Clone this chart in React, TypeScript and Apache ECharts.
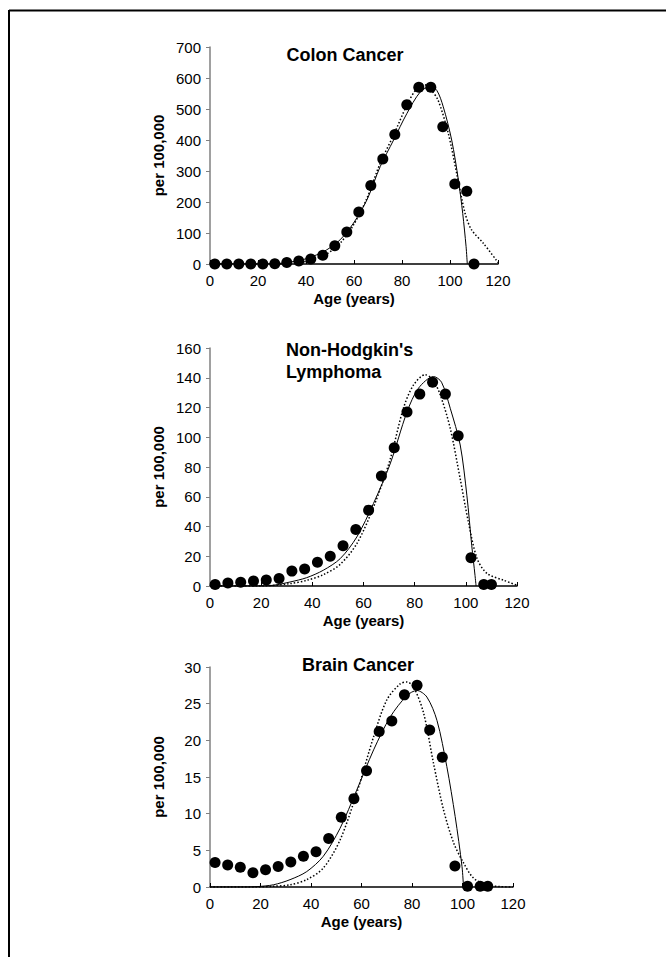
import React, { useEffect, useRef } from "react";
import * as echarts from "echarts";

// Ages at which observed rates are plotted (shared by all three panels)
const ages = [2, 7, 12, 17, 22, 27, 32, 37, 42, 47, 52, 57, 62, 67, 72, 77, 82, 87, 92, 97, 102, 107, 110];

// Colon cancer (per 100,000)
const colonObserved = [0, 0, 0, 0, 0, 1, 5, 10, 16, 28, 59, 103, 168, 253, 339, 418, 514, 570, 570, 443, 258, 235, 0];
const colonSolid: number[][] = [
  [0, 0], [20, 0], [29, 2], [37.6, 12], [43, 25], [48.7, 46], [54.2, 78], [59.8, 132], [65.4, 207],
  [70.9, 314], [76.5, 400], [82, 485], [87.6, 555], [91.7, 572], [94.5, 560], [97.2, 507], [100.7, 400],
  [103.5, 271], [105.3, 163], [106.7, 56], [107.2, 0],
];
const colonDotted: number[][] = [
  [0, 0], [25, 0], [32, 1], [37.6, 5], [43, 14], [48.7, 33], [54.2, 67], [59.8, 126], [65.4, 212],
  [70.9, 325], [76.5, 416], [82, 512], [86, 565], [89, 580], [92, 562], [95, 529], [99.3, 421],
  [102.8, 292], [106.3, 163], [109, 110], [113.9, 67], [120, 5],
];

// Non-Hodgkin's lymphoma (per 100,000)
const nhlObserved = [1, 2, 2.5, 3.4, 4, 5, 10, 11.5, 16, 20, 27, 38, 51, 74, 93, 117, 129, 137, 129, 101, 19, 1, 1];
const nhlSolid: number[][] = [
  [0, 0], [18, 0], [24.8, 0.5], [31.3, 2.7], [37.8, 5.6], [44.3, 10.6], [50.9, 18.4], [57.4, 33],
  [63.9, 55.5], [70.4, 82], [77, 117], [81.5, 133], [87.4, 140.8], [90.5, 137], [93.9, 119.5],
  [97.8, 94.8], [100.4, 61], [102.3, 27.4], [103.6, 7], [104, 0],
];
const nhlDotted: number[][] = [
  [0, 0], [20, 0], [31.3, 1.6], [37.8, 3.8], [44.3, 7.6], [50.9, 14.6], [57.4, 28.5], [63.9, 53],
  [70.4, 85], [75.6, 119.5], [79.5, 135], [84.1, 142], [87, 139], [90, 128.5], [93.9, 106], [97.8, 72],
  [101, 43], [104.4, 18.5], [108.3, 8.4], [114.9, 3.8], [120, 0.5],
];

// Brain cancer (per 100,000)
const brainObserved = [3.35, 3.0, 2.7, 1.95, 2.35, 2.8, 3.4, 4.2, 4.8, 6.6, 9.5, 12.05, 15.85, 21.2, 22.65, 26.2, 27.5, 21.4, 17.7, 2.85, 0.1, 0.1, 0.1];
const brainSolid: number[][] = [
  [0, 0], [11.9, 0], [18.5, 0.05], [25.1, 0.3], [31.7, 1.0], [38.3, 2.1], [44.9, 4.2], [51.5, 8.0],
  [58.1, 13.2], [64.8, 18.7], [71.4, 23.2], [78, 26.1], [81.9, 26.8], [85.9, 25.9], [89.9, 22.7],
  [93.8, 16.4], [97.1, 9.6], [99.8, 2.8], [100.4, 0],
];
const brainDotted: number[][] = [
  [0, 0], [18, 0], [25.1, 0.1], [31.7, 0.3], [38.3, 1.0], [44.9, 2.6], [51.5, 6.4], [58.1, 12.8],
  [64.8, 20.5], [70, 25.5], [75.3, 27.7], [78, 27.95], [80.6, 27.3], [84.6, 23.7], [88.5, 16.9],
  [92.5, 10.5], [96.5, 6.0], [100.4, 3.3], [104.4, 1.2], [109.7, 0.3], [115, 0.05], [120, 0],
];

// Axis settings
const xTicks = { min: 0, max: 120, interval: 20 };
const yMaxes = [700, 160, 30];
const yIntervals = [100, 20, 5];
const xTitle = "Age (years)";
const yTitle = "per 100,000";

const FONT = "Liberation Sans";

export default function App() {
  const ref = useRef<HTMLDivElement>(null);
  useEffect(() => {
    if (!ref.current) return;
    const chart = echarts.init(ref.current, undefined, { renderer: "svg" });
    const grids = [
      { left: 210, top: 47, width: 288, height: 217 },
      { left: 210, top: 348, width: 307, height: 238 },
      { left: 210, top: 667, width: 303, height: 220 },
    ];
    const observed = [colonObserved, nhlObserved, brainObserved];
    const solids = [colonSolid, nhlSolid, brainSolid];
    const dotteds = [colonDotted, nhlDotted, brainDotted];

    const xAxes = grids.map((_, i) => ({
      type: "value",
      gridIndex: i,
      min: xTicks.min,
      max: xTicks.max,
      interval: xTicks.interval,
      splitLine: { show: false },
      axisLine: { show: true, onZero: false, lineStyle: { color: "#000", width: 1.5 } },
      axisTick: { show: true, inside: true, length: 4, lineStyle: { color: "#000" } },
      axisLabel: { color: "#000", fontSize: 15, fontFamily: FONT, margin: 9 },
      name: xTitle,
      nameLocation: "middle",
      nameGap: 27,
      nameTextStyle: { color: "#000", fontSize: 15, fontWeight: "bold", fontFamily: FONT },
    }));
    const yAxes = grids.map((_, i) => ({
      type: "value",
      gridIndex: i,
      min: 0,
      max: yMaxes[i],
      interval: yIntervals[i],
      splitLine: { show: false },
      axisLine: { show: true, lineStyle: { color: "#808080", width: 1.5 } },
      axisTick: { show: true, inside: false, length: 4, lineStyle: { color: "#808080" } },
      axisLabel: { color: "#000", fontSize: 15, fontFamily: FONT, margin: 9 },
      name: yTitle,
      nameLocation: "middle",
      nameGap: 44,
      nameRotate: 90,
      nameTextStyle: { color: "#000", fontSize: 15, fontWeight: "bold", fontFamily: FONT },
    }));

    const series: any[] = [];
    grids.forEach((_, i) => {
      series.push({
        type: "line",
        xAxisIndex: i,
        yAxisIndex: i,
        data: solids[i],
        smooth: 0.3,
        showSymbol: false,
        lineStyle: { color: "#000", width: 1 },
        z: 2,
      });
      series.push({
        type: "line",
        xAxisIndex: i,
        yAxisIndex: i,
        data: dotteds[i],
        smooth: 0.3,
        showSymbol: false,
        lineStyle: { color: "#000", width: 1.5, type: [1.5, 2] },
        z: 2,
      });
      series.push({
        type: "scatter",
        xAxisIndex: i,
        yAxisIndex: i,
        data: ages.map((a, k) => [a, observed[i][k]]),
        symbol: "circle",
        symbolSize: 11,
        itemStyle: { color: "#000", opacity: 1 },
        z: 3,
      });
    });

    const titleStyle = { fill: "#000", fontSize: 18, fontWeight: "bold", fontFamily: FONT };
    chart.setOption({
      animation: false,
      backgroundColor: "#fff",
      grid: grids,
      xAxis: xAxes,
      yAxis: yAxes,
      series,
      graphic: [
        { type: "line", shape: { x1: 9, y1: 10.5, x2: 666, y2: 10.5 }, style: { stroke: "#000", lineWidth: 2 } },
        { type: "line", shape: { x1: 9, y1: 10, x2: 9, y2: 957 }, style: { stroke: "#000", lineWidth: 2 } },
        { type: "text", x: 345, y: 55, style: { ...titleStyle, text: "Colon Cancer", textAlign: "center", textVerticalAlign: "middle" } },
        { type: "text", x: 286, y: 350, style: { ...titleStyle, text: "Non-Hodgkin's", textAlign: "left", textVerticalAlign: "middle" } },
        { type: "text", x: 286, y: 372, style: { ...titleStyle, text: "Lymphoma", textAlign: "left", textVerticalAlign: "middle" } },
        { type: "text", x: 358, y: 665, style: { ...titleStyle, text: "Brain Cancer", textAlign: "center", textVerticalAlign: "middle" } },
      ],
    });
    return () => chart.dispose();
  }, []);
  return <div ref={ref} style={{ position: "fixed", left: 0, top: 0, width: 666, height: 957 }} />;
}
